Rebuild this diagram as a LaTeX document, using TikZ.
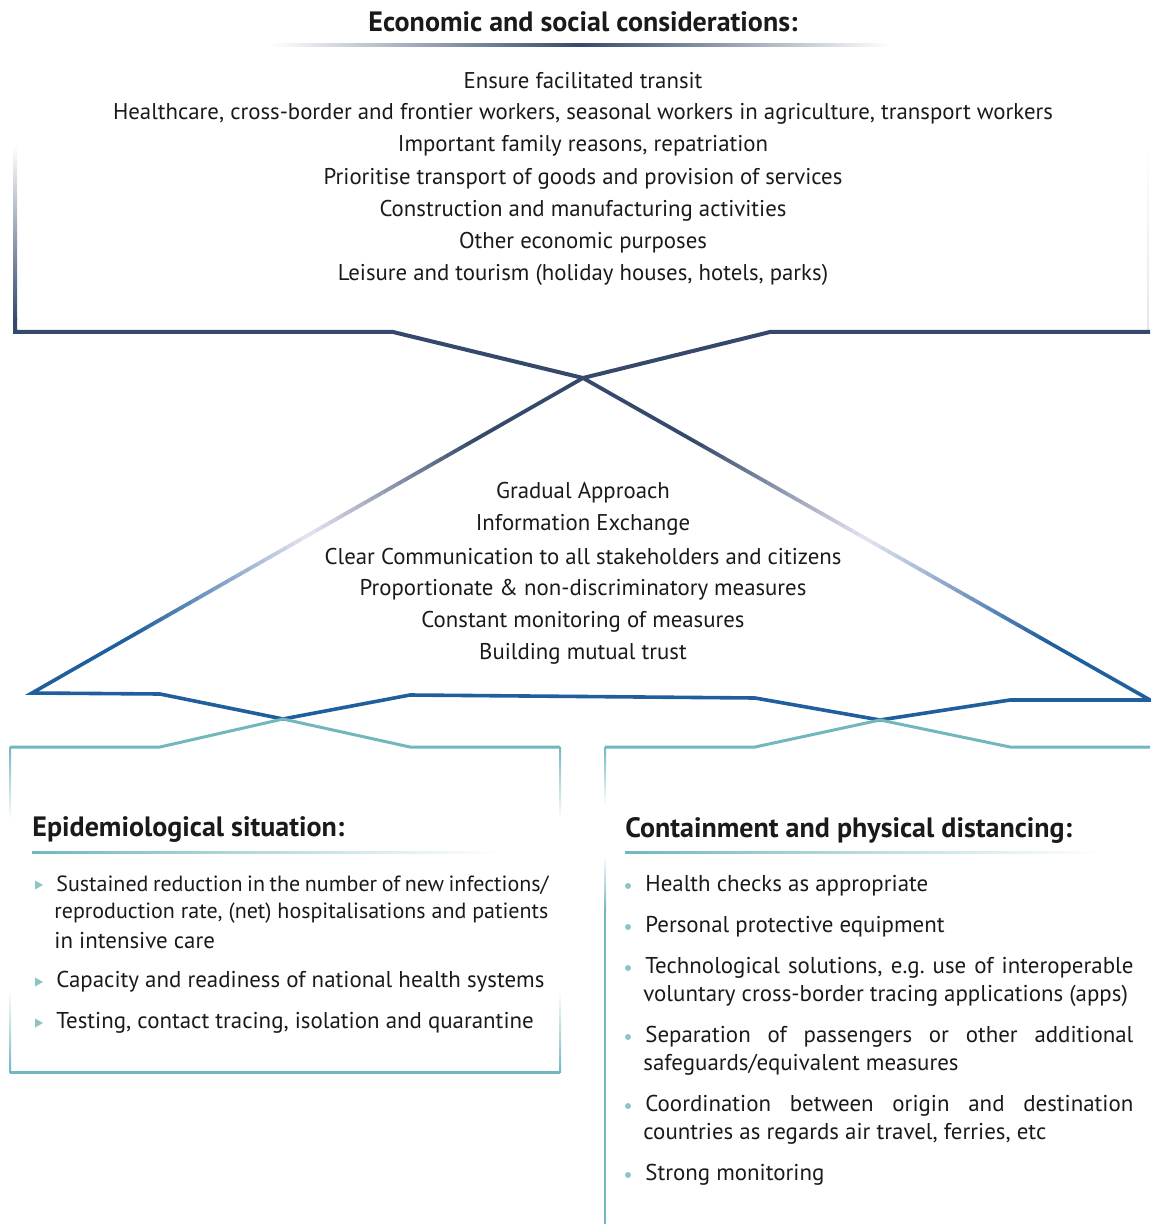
\documentclass[tikz,border=0pt]{standalone}
\usepackage{fontspec}
\setmainfont{PT Sans}
\usetikzlibrary{calc}
\definecolor{ink}{HTML}{1A1A1A}
\definecolor{navyline}{HTML}{354A6B}
\definecolor{triblue}{HTML}{1F5F9E}
\definecolor{haze}{HTML}{E6E4F2}
\definecolor{lineteal}{HTML}{72B7BE}
\definecolor{bulteal}{HTML}{8CC5C4}
\definecolor{faint}{HTML}{E3E6EC}

% line that changes colour from #3 to #4 between two points
\newcommand{\fadeline}[4]{%
  \foreach \k in {1,...,24}{%
    \pgfmathsetmacro\fadeA{(\k-1)/24}%
    \pgfmathsetmacro\fadeB{\k/24}%
    \pgfmathsetmacro\fadeC{100-100*(\k-0.5)/24}%
    \draw[#3!\fadeC!#4,line cap=round] ($#1!\fadeA!#2$) -- ($#1!\fadeB!#2$);}}

\begin{document}
\begin{tikzpicture}[x=0.5pt,y=-0.5pt,line join=miter,
    body/.style={inner sep=0pt,text=ink,font=\fontsize{11.4}{13}\selectfont},
    item/.style={inner sep=0pt,anchor=west,text=ink,font=\fontsize{11.45}{13}\selectfont},
    tight/.style={item,font=\fontsize{11}{13}\selectfont},
    head/.style={inner sep=0pt,text=ink,font=\fontsize{14}{16}\selectfont\bfseries},
    topline/.style={navyline,line width=2pt},
    triline/.style={triblue,line width=1.8pt},
    boxline/.style={lineteal,line width=1.5pt},
    bullet/.style={fill=bulteal}]
  \useasboundingbox (0,0) rectangle (1150,1224);

  % corner points
  \coordinate (tbl) at (15,332);
  \coordinate (tlk) at (393,332);
  \coordinate (trk) at (770,332);
  \coordinate (tbr) at (1150,332);
  \coordinate (x1) at (583,378);
  \coordinate (tril) at (32,693);
  \coordinate (trir) at (1150,700);
  \coordinate (x2) at (283,719);
  \coordinate (x3) at (880,720);

  % top frame
  \shade[top color=white,bottom color=navyline] (13,145) rectangle (17,320);
  \shade[top color=white,bottom color=faint] (1147,145) rectangle (1149,331);
  \draw[topline] (15,318) -- (tbl) -- (tlk) -- (x1);
  \draw[topline] (tbr) -- (trk) -- (x1);

  % triangle sides
  \coordinate (la) at ($(x1)!0.2!(tril)$);
  \coordinate (lb) at ($(x1)!0.5!(tril)$);
  \coordinate (lc) at ($(x1)!0.82!(tril)$);
  \coordinate (ra) at ($(x1)!0.2!(trir)$);
  \coordinate (rb) at ($(x1)!0.5!(trir)$);
  \coordinate (rc) at ($(x1)!0.82!(trir)$);
  \begin{scope}[line width=1.9pt]
    \draw[navyline] (x1) -- (la);
    \draw[navyline] (x1) -- (ra);
    \fadeline{(la)}{(lb)}{navyline}{haze}
    \fadeline{(ra)}{(rb)}{navyline}{haze}
    \fadeline{(lb)}{(lc)}{haze}{triblue}
    \fadeline{(rb)}{(rc)}{haze}{triblue}
  \end{scope}
  \draw[triline] (lc) -- (tril) -- (160,694) -- (x2) -- (410,695) -- (755,698)
    -- (x3) -- (1010,700) -- (trir) -- (rc);

  % lower boxes
  \draw[boxline] (10,747) -- (160,747) -- (x2) -- (410,747) -- (560,747);
  \draw[boxline] (605,747) -- (755,747) -- (x3) -- (1010,747) -- (1150,747);
  \draw[boxline] (10,1072) -- (560,1072);
  \shade[top color=lineteal,bottom color=white] (9,747) rectangle (11,820);
  \shade[top color=white,bottom color=lineteal] (9,990) rectangle (11,1072);
  \shade[top color=lineteal,bottom color=white] (559,747) rectangle (561,820);
  \shade[top color=white,bottom color=lineteal] (559,990) rectangle (561,1072);
  \shade[top color=lineteal,bottom color=white] (604,747) rectangle (606,805);
  \shade[top color=white,bottom color=lineteal] (604,855) rectangle (606,910);
  \fill[lineteal] (604,910) rectangle (606,1224);

  % underlines
  \shade[left color=white,right color=white,middle color=navyline] (270,44) rectangle (890,46.5);
  \shade[left color=lineteal,right color=white] (32,851) rectangle (500,853.5);
  \shade[left color=lineteal,right color=white] (625,851) rectangle (1100,853.5);

  % headings
  \node[head] (econ) at (583,22) {Economic and social considerations:};
  \node[head,anchor=west] (epi) at (32,830) {Epidemiological situation:};
  \node[head,anchor=west] (cont) at (625,830) {Containment and physical distancing:};

  % considerations
  \foreach \y/\txt [count=\n] in {81/Ensure facilitated transit,
      114/{Healthcare, cross-border and frontier workers, seasonal workers in agriculture, transport workers},
      146/{Important family reasons, repatriation},
      179/Prioritise transport of goods and provision of services,
      211/Construction and manufacturing activities,
      243/Other economic purposes,
      275/{Leisure and tourism (holiday houses, hotels, parks)}}
    \node[body] (top\n) at (583,\y) {\txt};

  % principles
  \foreach \y/\txt [count=\n] in {493/Gradual Approach,
      525/Information Exchange,
      557/Clear Communication to all stakeholders and citizens,
      590/Proportionate \& non-discriminatory measures,
      622/Constant monitoring of measures,
      654/Building mutual trust}
    \node[body] (mid\n) at (583,\y) {\txt};

  % epidemiological items
  \foreach \y in {885,982,1023}
    \fill[bullet] (35,\y-4.5) -- (43,\y) -- (35,\y+4.5) -- cycle;
  \node[tight] (e1) at (56,885) {\makebox[246pt][s]{Sustained reduction in the number of new infections/}};
  \node[tight] (e2) at (54,913) {\makebox[247pt][s]{reproduction rate, (net) hospitalisations and patients}};
  \node[item] (e3) at (54,941) {in intensive care};
  \node[item] (e4) at (56,982) {Capacity and readiness of national health systems};
  \node[item] (e5) at (56,1023) {Testing, contact tracing, isolation and quarantine};

  % containment items
  \foreach \y in {886,927,968,1037,1106,1175}
    \fill[bullet] (628,\y) circle[radius=3];
  \node[item] (c1) at (645,886) {Health checks as appropriate};
  \node[item] (c2) at (645,927) {Personal protective equipment};
  \node[item] (c3) at (645,968) {\makebox[244pt][s]{Technological solutions, e.g.\ use of interoperable}};
  \node[item] (c4) at (643,996) {voluntary cross-border tracing applications (apps)};
  \node[item] (c5) at (645,1037) {\makebox[244pt][s]{Separation of passengers or other additional}};
  \node[item] (c6) at (643,1065) {safeguards/equivalent measures};
  \node[item] (c7) at (645,1106) {\makebox[244pt][s]{Coordination between origin and destination}};
  \node[item] (c8) at (643,1134) {countries as regards air travel, ferries, etc};
  \node[item] (c9) at (645,1175) {Strong monitoring};
\end{tikzpicture}
\end{document}
